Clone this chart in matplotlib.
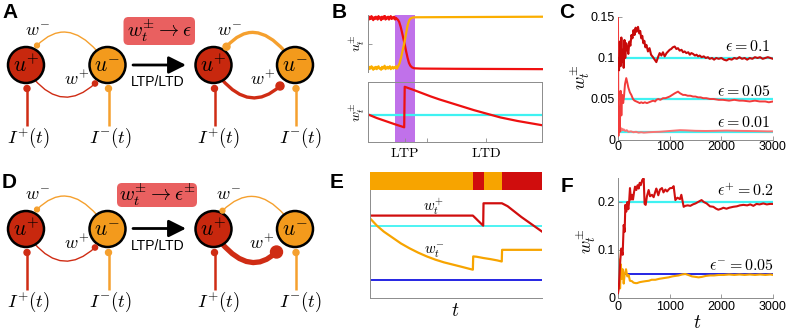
import matplotlib
matplotlib.use('Agg')
import matplotlib.pyplot as plt
from matplotlib.patches import Circle, FancyBboxPatch, Rectangle, PathPatch
from matplotlib.path import Path

plt.rcParams['font.family'] = ['Liberation Sans', 'DejaVu Sans']
plt.rcParams['mathtext.fontset'] = 'cm'

# ---------------- data ----------------
# Panel B top: rates u_t^+ (red) / u_t^- (orange) on normalised time
b_top_red_t = [0.000, 0.005, 0.010, 0.015, 0.020, 0.025, 0.030, 0.035, 0.040, 0.045,
               0.050, 0.055, 0.060, 0.065, 0.070, 0.075, 0.080, 0.085, 0.090, 0.095,
               0.100, 0.105, 0.110, 0.115, 0.120, 0.125, 0.130, 0.135, 0.140, 0.145,
               0.150, 0.155, 0.160, 0.165, 0.170, 0.178, 0.186, 0.194, 0.202, 0.210,
               0.218, 0.226, 0.234, 0.242, 0.252, 0.265, 0.300, 0.500, 0.750, 1.000]
b_top_red_u = [0.95, 0.92, 0.97, 0.93, 0.98, 0.94, 0.91, 0.96, 0.93, 0.97,
               0.95, 0.92, 0.98, 0.94, 0.96, 0.91, 0.97, 0.93, 0.95, 0.99,
               0.92, 0.96, 0.94, 0.97, 0.92, 0.95, 0.98, 0.93, 0.96, 0.94,
               0.97, 0.92, 0.95, 0.93, 0.92, 0.88, 0.80, 0.70, 0.59, 0.48,
               0.36, 0.25, 0.16, 0.11, 0.08, 0.065, 0.06, 0.056, 0.053, 0.05]
b_top_org_t = [0.000, 0.005, 0.010, 0.015, 0.020, 0.025, 0.030, 0.035, 0.040, 0.045,
               0.050, 0.055, 0.060, 0.065, 0.070, 0.075, 0.080, 0.085, 0.090, 0.095,
               0.100, 0.105, 0.110, 0.115, 0.120, 0.125, 0.130, 0.135, 0.140, 0.145,
               0.150, 0.155, 0.160, 0.165, 0.172, 0.180, 0.188, 0.196, 0.204, 0.212,
               0.220, 0.228, 0.236, 0.244, 0.255, 0.270, 0.400, 0.700, 1.000]
b_top_org_u = [0.07, 0.05, 0.09, 0.06, 0.10, 0.07, 0.04, 0.08, 0.06, 0.09,
               0.05, 0.08, 0.10, 0.06, 0.07, 0.04, 0.09, 0.06, 0.08, 0.11,
               0.05, 0.07, 0.09, 0.06, 0.08, 0.10, 0.05, 0.07, 0.09, 0.06,
               0.08, 0.07, 0.10, 0.06, 0.10, 0.15, 0.24, 0.35, 0.46, 0.58,
               0.72, 0.84, 0.91, 0.94, 0.955, 0.96, 0.962, 0.966, 0.97]
# Panel B bottom: weight w_t and its target
b_bot_t = [0.0, 0.05, 0.10, 0.15, 0.208, 0.211, 0.26, 0.31, 0.36, 0.41, 0.46,
           0.51, 0.56, 0.61, 0.66, 0.71, 0.76, 0.81, 0.86, 0.91, 0.96, 1.0]
b_bot_w = [0.46, 0.40, 0.35, 0.30, 0.245, 0.92, 0.87, 0.815, 0.76, 0.71, 0.665,
           0.62, 0.575, 0.53, 0.49, 0.45, 0.41, 0.38, 0.35, 0.325, 0.30, 0.28]
b_bot_target = 0.45
b_ticks = [0.21, 0.34, 0.68]
b_ticklabels = [r'$\mathrm{LTP}$', '', r'$\mathrm{LTD}$']

# Panel C: w_t for three epsilons
c_hi_t = [5, 20, 35, 50, 65, 80, 95, 110, 125, 140, 160, 180, 200, 220, 240, 260, 280, 300,
          320, 340, 360, 387, 410, 430, 450, 470, 490, 510, 530, 550, 580, 610, 640, 677,
          710, 742, 775, 806, 840, 870, 903, 940, 970, 1000, 1030, 1060, 1097, 1130, 1160,
          1194, 1230, 1260, 1290, 1323, 1360, 1390, 1420, 1452, 1490, 1520, 1550, 1581,
          1620, 1660, 1700, 1740, 1774, 1820, 1860, 1900, 1950, 2000, 2050, 2100, 2150,
          2200, 2250, 2300, 2350, 2400, 2450, 2500, 2550, 2600, 2650, 2700, 2750, 2800,
          2850, 2900, 2950, 3000]
c_hi_w = [0.100, 0.085, 0.120, 0.090, 0.125, 0.095, 0.110, 0.088, 0.122, 0.100, 0.118,
          0.112, 0.105, 0.120, 0.115, 0.128, 0.124, 0.134, 0.128, 0.137, 0.132, 0.138,
          0.130, 0.133, 0.124, 0.127, 0.118, 0.121, 0.113, 0.116, 0.108, 0.112, 0.104,
          0.101, 0.098, 0.095, 0.101, 0.106, 0.103, 0.107, 0.102, 0.106, 0.108, 0.110,
          0.111, 0.113, 0.114, 0.111, 0.112, 0.109, 0.110, 0.107, 0.108, 0.106, 0.107,
          0.104, 0.106, 0.105, 0.103, 0.104, 0.102, 0.103, 0.101, 0.102, 0.100, 0.101,
          0.099, 0.100, 0.098, 0.100, 0.099, 0.100, 0.098, 0.097, 0.099, 0.098, 0.100,
          0.099, 0.101, 0.099, 0.100, 0.098, 0.100, 0.099, 0.101, 0.100, 0.101, 0.099,
          0.100, 0.101, 0.100, 0.099]
c_mid_t = [0, 8, 20, 35, 50, 65, 80, 100, 116, 135, 160, 180, 200, 230, 258, 290, 320, 355,
           390, 420, 450, 484, 520, 560, 600, 640, 680, 720, 742, 780, 820, 871, 920, 960,
           1000, 1050, 1100, 1161, 1200, 1258, 1300, 1350, 1400, 1452, 1500, 1550, 1600,
           1650, 1710, 1780, 1850, 1950, 2032, 2150, 2250, 2350, 2419, 2550, 2650, 2742,
           2850, 2920, 3000]
c_mid_w = [0.152, 0.005, 0.040, 0.010, 0.060, 0.030, 0.055, 0.045, 0.053, 0.068, 0.0755,
           0.070, 0.064, 0.058, 0.055, 0.050, 0.048, 0.047, 0.046, 0.045, 0.046, 0.045,
           0.046, 0.045, 0.046, 0.047, 0.048, 0.047, 0.049, 0.050, 0.049, 0.051, 0.051,
           0.052, 0.053, 0.055, 0.057, 0.059, 0.057, 0.055, 0.055, 0.054, 0.054, 0.053,
           0.053, 0.052, 0.052, 0.051, 0.051, 0.050, 0.050, 0.049, 0.049, 0.048, 0.049,
           0.048, 0.048, 0.047, 0.048, 0.047, 0.047, 0.046, 0.047]
c_lo_t = [0, 10, 25, 40, 55, 70, 90, 110, 140, 170, 200, 250, 300, 350, 400, 450, 500, 600,
          700, 800, 900, 1000, 1100, 1200, 1300, 1400, 1500, 1700, 1900, 2100, 2300, 2500,
          2700, 2900, 3000]
c_lo_w = [0.010, 0.020, 0.014, 0.016, 0.011, 0.014, 0.012, 0.013, 0.011, 0.012, 0.010,
          0.0105, 0.0095, 0.010, 0.009, 0.0095, 0.009, 0.0095, 0.0098, 0.010, 0.0105,
          0.011, 0.0115, 0.012, 0.0118, 0.0115, 0.0112, 0.011, 0.0112, 0.0115, 0.0112,
          0.011, 0.0108, 0.0105, 0.0105]
c_eps = [0.1, 0.05, 0.01]
c_eps_labels = [r'$\epsilon = 0.1$', r'$\epsilon = 0.05$', r'$\epsilon = 0.01$']
c_label_y = [0.1138, 0.0596, 0.0214]

# Panel E: schematic
e_bar_edges = [0.0, 0.598, 0.66, 0.767, 1.0]
e_bar_state = ['minus', 'plus', 'minus', 'plus']
e_wp_t = [0.0, 0.598, 0.615, 0.630, 0.645, 0.658, 0.660, 0.767, 0.80, 0.84, 0.88, 0.92, 0.96, 1.0]
e_wp_w = [0.763, 0.763, 0.737, 0.713, 0.690, 0.670, 0.877, 0.877, 0.85, 0.80, 0.75, 0.705, 0.66, 0.615]
e_wm_t = [0.0, 0.04, 0.08, 0.13, 0.18, 0.23, 0.28, 0.33, 0.38, 0.43, 0.48, 0.53, 0.598,
          0.600, 0.62, 0.66, 0.70, 0.74, 0.766, 0.768, 1.0]
e_wm_w = [0.738, 0.67, 0.615, 0.56, 0.505, 0.46, 0.42, 0.385, 0.355, 0.33, 0.31, 0.29, 0.262,
          0.385, 0.382, 0.37, 0.36, 0.348, 0.338, 0.446, 0.446]
e_eps_plus = 0.668
e_eps_minus = 0.166

# Panel F
f_plus_t = [0, 15, 30, 45, 64, 90, 110, 129, 142, 160, 180, 200, 215, 232, 250, 270, 290,
            310, 330, 355, 380, 400, 420, 440, 470, 497, 515, 535, 560, 593, 620, 658, 690,
            723, 742, 780, 813, 851, 880, 916, 950, 980, 1010, 1045, 1077, 1110, 1150, 1200,
            1226, 1271, 1303, 1350, 1400, 1450, 1500, 1550, 1617, 1660, 1716, 1780, 1845,
            1900, 1942, 2000, 2039, 2100, 2150, 2232, 2300, 2360, 2426, 2500, 2560, 2620,
            2680, 2740, 2813, 2880, 2940, 3000]
f_plus_w = [0.010, 0.020, 0.048, 0.080, 0.103, 0.090, 0.152, 0.138, 0.194, 0.180, 0.200,
            0.185, 0.200, 0.229, 0.205, 0.215, 0.205, 0.220, 0.232, 0.225, 0.235, 0.228,
            0.240, 0.235, 0.246, 0.249, 0.196, 0.194, 0.212, 0.225, 0.212, 0.215, 0.210,
            0.222, 0.228, 0.214, 0.226, 0.229, 0.220, 0.226, 0.222, 0.226, 0.229, 0.229,
            0.233, 0.204, 0.209, 0.206, 0.215, 0.190, 0.192, 0.193, 0.192, 0.195, 0.197,
            0.200, 0.204, 0.200, 0.197, 0.191, 0.190, 0.186, 0.184, 0.186, 0.188, 0.186,
            0.188, 0.190, 0.191, 0.193, 0.194, 0.193, 0.195, 0.192, 0.196, 0.195, 0.197,
            0.195, 0.196, 0.196]
f_minus_t = [0, 10, 20, 30, 40, 55, 70, 90, 110, 130, 155, 180, 206, 230, 271, 300, 340,
             368, 420, 470, 529, 600, 650, 723, 800, 860, 916, 980, 1050, 1110, 1174, 1240,
             1303, 1360, 1432, 1500, 1560, 1625, 1700, 1780, 1860, 1950, 2050, 2150, 2250,
             2350, 2450, 2550, 2650, 2750, 2850, 2950, 3000]
f_minus_w = [0.100, 0.060, 0.020, 0.080, 0.020, 0.070, 0.040, 0.060, 0.030, 0.050, 0.060,
             0.045, 0.048, 0.036, 0.035, 0.032, 0.031, 0.031, 0.033, 0.034, 0.035, 0.036,
             0.038, 0.038, 0.040, 0.041, 0.042, 0.043, 0.045, 0.046, 0.047, 0.049, 0.050,
             0.048, 0.045, 0.044, 0.043, 0.044, 0.046, 0.047, 0.047, 0.048, 0.048, 0.049,
             0.048, 0.049, 0.048, 0.049, 0.048, 0.049, 0.048, 0.049, 0.048]
f_eps_plus = 0.2
f_eps_minus = 0.05

# ---------------- style ----------------
W, H = 790, 334
RED = '#d00d0d'
ORG = '#f7a400'
CYAN = '#3ff2f2'
BLUE = '#1414e0'
GRAY = '#8c8c8c'
C_COLS = ['#c80a0a', '#f23b3b', '#fb7272']
PURPLE = '#c071ea'

fig = plt.figure(figsize=(7.9, 3.34), dpi=100)


def rect(x0, y0, x1, y1):
    return [x0 / W, 1 - y1 / H, (x1 - x0) / W, (y1 - y0) / H]


def style(ax, spines=('left', 'bottom')):
    ax.set_facecolor('none')
    for s in ['left', 'right', 'top', 'bottom']:
        ax.spines[s].set_visible(s in spines)
        ax.spines[s].set_color(GRAY)
        ax.spines[s].set_linewidth(0.7)
    ax.tick_params(direction='in', length=3, width=0.6, color=GRAY,
                   labelsize=9, pad=2)


# overlay for diagrams, labels and shaded span
ov = fig.add_axes([0, 0, 1, 1])
ov.set_xlim(0, W)
ov.set_ylim(H, 0)
ov.axis('off')
ov.set_zorder(-1)

C_UP = '#c8280e'
C_UM = '#f39a1c'
C_LR = '#cf2c14'
C_LO = '#f5a02e'


def network(dx, dy, lw_m, r_m, end_m, lw_p, r_p, end_p, lab_m, lab_p, ldx):
    X = lambda x: x + dx
    Y = lambda y: y + dy
    for x, col in [(27, C_LR), (108.5, C_LO)]:
        ov.plot([X(x), X(x)], [Y(88), Y(126)], color=col, lw=1.8,
                solid_capstyle='butt', zorder=2)
        ov.add_patch(Circle((X(x), Y(88.5)), 3.0, color=col, zorder=7))
    ov.text(X(28.5) + ldx, Y(138), r'$I^{+}(t)$', fontsize=13.5, ha='center', va='center')
    ov.text(X(110.5) + ldx, Y(138), r'$I^{-}(t)$', fontsize=13.5, ha='center', va='center')
    p = Path([(X(97), Y(51)), (X(66), Y(16)), (X(end_m[0]), Y(end_m[1]))],
             [Path.MOVETO, Path.CURVE3, Path.CURVE3])
    ov.add_patch(PathPatch(p, fc='none', ec=C_LO, lw=lw_m, zorder=3))
    ov.add_patch(Circle((X(end_m[0]), Y(end_m[1])), r_m, color=C_LO, zorder=7))
    p = Path([(X(34), Y(79)), (X(63), Y(113)), (X(end_p[0]), Y(end_p[1]))],
             [Path.MOVETO, Path.CURVE3, Path.CURVE3])
    ov.add_patch(PathPatch(p, fc='none', ec=C_LR, lw=lw_p, zorder=3))
    ov.add_patch(Circle((X(end_p[0]), Y(end_p[1])), r_p, color=C_LR, zorder=7))
    for x, col, lab in [(26, C_UP, r'$u^{+}$'), (107.5, C_UM, r'$u^{-}$')]:
        ov.add_patch(Circle((X(x), Y(65)), 18, facecolor=col, edgecolor='k',
                            lw=1.8, zorder=5))
        ov.text(X(x), Y(66), lab, fontsize=15.5, ha='center', va='center', zorder=6)
    ov.text(X(lab_m[0]), Y(lab_m[1]), r'$w^{-}$', fontsize=13, ha='center', va='center')
    ov.text(X(lab_p[0]), Y(lab_p[1]), r'$w^{+}$', fontsize=13, ha='center', va='center')


for dy, big in [(0, False), (164, True)]:
    network(0, dy, 1.0, 2.4, (37, 45.5), 1.0, 2.6, (95, 83.5), (37, 31.5), (77, 80), 0)
    if not big:
        network(187.5, dy, 2.4, 3.5, (39, 46.7), 2.4, 4.0, (92.5, 86), (42, 31.7), (75.5, 80), 2.5)
    else:
        network(187.5, dy, 1.0, 2.4, (35, 46.7), 3.8, 6.0, (89, 88), (40.5, 31.7), (74, 80), 2.5)

# boxes, arrows
ov.add_patch(FancyBboxPatch((123.5, 17), 71.5, 28, boxstyle='round,pad=0,rounding_size=5',
                            fc='#e96060', ec='none', zorder=2))
ov.text(159, 31, r'$w_t^{\pm}\rightarrow\epsilon$', fontsize=14.5, ha='center', va='center', zorder=3)
ov.add_patch(FancyBboxPatch((117, 183), 80, 24, boxstyle='round,pad=0,rounding_size=5',
                            fc='#e96060', ec='none', zorder=2))
ov.text(157, 195, r'$w_t^{\pm}\rightarrow\epsilon^{\pm}$', fontsize=14.5, ha='center', va='center', zorder=3)
for y, ty in [(65, 82), (228.5, 246.5)]:
    ov.annotate('', xy=(186, y), xytext=(133, y),
                arrowprops=dict(arrowstyle='-|>,head_length=0.8,head_width=0.4', lw=2.0,
                                color='k', mutation_scale=13, shrinkA=0, shrinkB=0))
    ov.text(158, ty, 'LTP/LTD', fontsize=10, ha='center', va='center')

# panel letters
for lab, x, y in [('A', 10, 12), ('B', 339, 12), ('C', 567, 12),
                  ('D', 9, 182), ('E', 337, 182), ('F', 567, 186)]:
    ov.text(x, y, lab, fontsize=15, fontweight='bold', ha='center', va='center')

# purple LTP span across panel B
ov.add_patch(Rectangle((395, 15), 20, 127, color=PURPLE, lw=0, zorder=1))

# ---- Panel B ----
bt = fig.add_axes(rect(368, 15, 543, 72))
style(bt, spines=('left',))
bt.plot(b_top_red_t, b_top_red_u, color='#f01010', lw=1.6)
bt.plot(b_top_org_t, b_top_org_u, color='#fbae00', lw=1.6)
bt.set_xlim(0, 1)
bt.set_ylim(0, 1)
bt.set_xticks([])
bt.set_yticks([0.5])
bt.set_yticklabels([])
ov.text(357, 43, r'$u_t^{\pm}$', fontsize=10, rotation=90, ha='center', va='center')

bb = fig.add_axes(rect(368, 82, 542, 142))
style(bb, spines=('left', 'bottom', 'top', 'right'))
bb.axhline(b_bot_target, color=CYAN, lw=1.6, zorder=1)
bb.plot(b_bot_t, b_bot_w, color='#ee1010', lw=1.6, zorder=2)
bb.set_xlim(0, 1)
bb.set_ylim(0, 1)
bb.set_yticks([])
bb.set_xticks(b_ticks)
bb.set_xticklabels(b_ticklabels, fontsize=10)
bb.tick_params(axis='x', pad=3)
ov.text(357, 112, r'$w_t^{\pm}$', fontsize=10, rotation=90, ha='center', va='center')

# ---- Panel C ----
ac = fig.add_axes(rect(618, 17, 773, 140))
style(ac)
for e in c_eps:
    ac.axhline(e, color=CYAN, lw=1.6, zorder=1)
ac.plot(c_lo_t, c_lo_w, color=C_COLS[2], lw=1.4, zorder=2)
ac.plot(c_mid_t, c_mid_w, color=C_COLS[1], lw=1.4, zorder=3)
ac.plot(c_hi_t, c_hi_w, color=C_COLS[0], lw=1.5, zorder=4)
for lab, y in zip(c_eps_labels, c_label_y):
    ac.text(2960, y, lab, fontsize=11.5, ha='right', va='center')
ac.set_xlim(0, 3000)
ac.set_ylim(0, 0.15)
ac.set_xticks([0, 1000, 2000, 3000])
ac.set_yticks([0, 0.05, 0.1, 0.15])
ac.set_yticklabels(['0', '0.05', '0.1', '0.15'])
ac.tick_params(axis='x', pad=1)
ov.text(580, 77, r'$w_t^{\pm}$', fontsize=13, rotation=90, ha='center', va='center')

# ---- Panel E ----
eb = fig.add_axes(rect(370, 172, 542, 190))
eb.set_facecolor('none')
state_col = {'minus': ORG, 'plus': RED}
for i, s in enumerate(e_bar_state):
    eb.barh(0, e_bar_edges[i + 1] - e_bar_edges[i], left=e_bar_edges[i], height=1,
            color=state_col[s], lw=0)
eb.set_xlim(0, 1)
eb.set_ylim(-0.5, 0.5)
eb.axis('off')

ae = fig.add_axes(rect(370, 190, 542, 298))
style(ae)
ae.axhline(e_eps_plus, color=CYAN, lw=1.3, zorder=1)
ae.axhline(e_eps_minus, color=BLUE, lw=1.3, zorder=1)
ae.plot(e_wp_t, e_wp_w, color=RED, lw=1.6, zorder=2)
ae.plot(e_wm_t, e_wm_w, color=ORG, lw=1.6, zorder=2)
ae.set_xlim(0, 1)
ae.set_ylim(0, 1)
ae.set_xticks([])
ae.set_yticks([])
ov.text(433, 207, r'$w_t^{+}$', fontsize=10.5, ha='center', va='center')
ov.text(434, 252, r'$w_t^{-}$', fontsize=10.5, ha='center', va='center')
ov.text(455, 312, r'$t$', fontsize=14, ha='center', va='center')

# ---- Panel F ----
af = fig.add_axes(rect(618, 178, 773, 298))
style(af)
af.axhline(f_eps_plus, color=CYAN, lw=1.6, zorder=1)
af.axhline(f_eps_minus, color=BLUE, lw=1.3, zorder=1)
af.plot(f_plus_t, f_plus_w, color='#d01010', lw=1.5, zorder=3)
af.plot(f_minus_t, f_minus_w, color=ORG, lw=1.5, zorder=2)
af.text(3010, 0.223, r'$\epsilon^{+} = 0.2$', fontsize=11.5, ha='right', va='center')
af.text(3010, 0.067, r'$\epsilon^{-} = 0.05$', fontsize=11.5, ha='right', va='center')
af.set_xlim(0, 3000)
af.set_ylim(0, 0.25)
af.set_xticks([0, 1000, 2000, 3000])
af.set_yticks([0, 0.1, 0.2])
af.set_yticklabels(['0', '0.1', '0.2'])
ov.text(586, 241, r'$w_t^{\pm}$', fontsize=13, rotation=90, ha='center', va='center')
ov.text(697, 323, r'$t$', fontsize=14, ha='center', va='center')

fig.savefig('out.png', dpi=100)
